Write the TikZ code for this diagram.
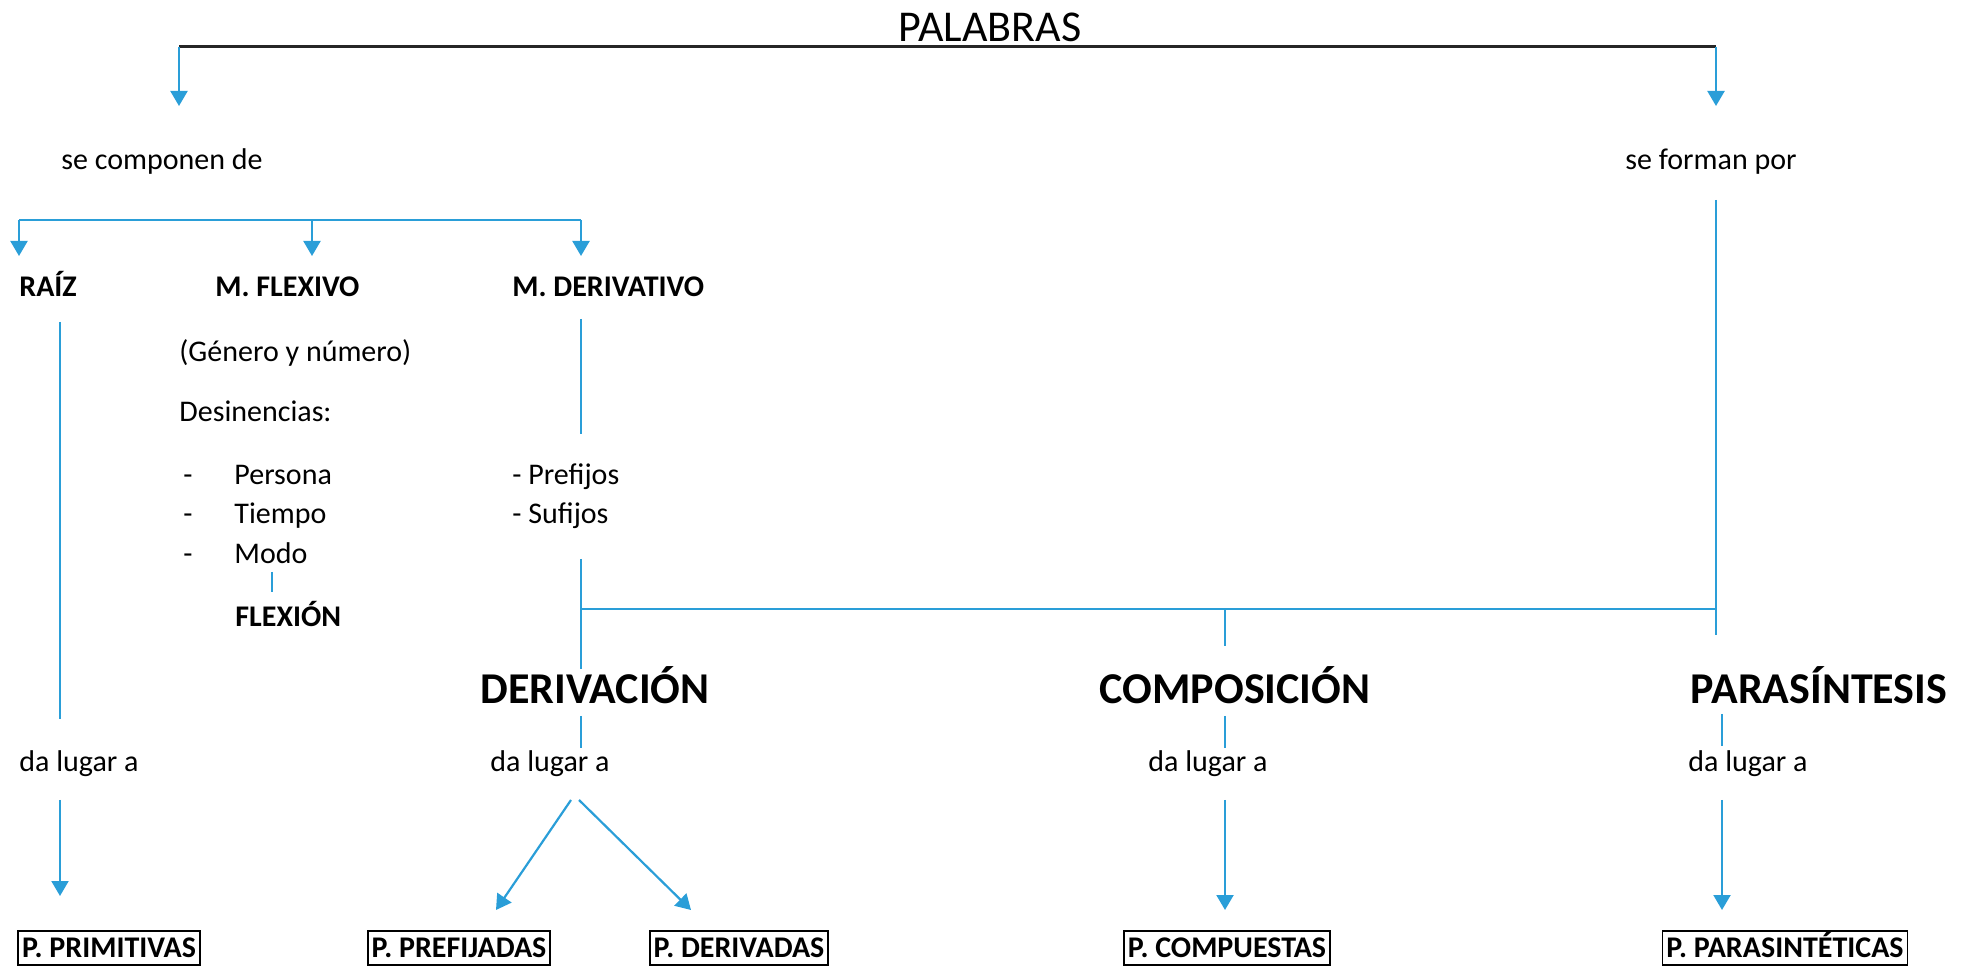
\documentclass[tikz,border=0pt]{standalone}
\usepackage{fontspec}
\setmainfont{Carlito}
\usetikzlibrary{arrows.meta, positioning}
\definecolor{mapblue}{RGB}{42,158,216}

\tikzset{
  txt/.style={inner sep=0pt, font=\fontsize{15}{18}\selectfont},
  lbl/.style={inner sep=0pt, font=\fontsize{15}{18}\selectfont\bfseries},
  big/.style={inner sep=0pt, font=\fontsize{22}{26}\selectfont\bfseries},
  result/.style={draw=black, line width=0.9pt, inner xsep=2pt, inner ysep=3.5pt,
    text height=9.7pt, text depth=0pt, font=\fontsize{15}{18}\selectfont\bfseries},
  link/.style={draw=mapblue, line width=1.1pt},
  arr/.style={link, -{Triangle[width=8.5pt,length=7.5pt]}},
}

\begin{document}
\begin{tikzpicture}[x=0.5pt,y=-0.5pt]
    \useasboundingbox (0,0) rectangle (1961,967);
    % top level
    \node[inner sep=0pt, font=\fontsize{22}{26}\selectfont] (palabras) at (990,27) {PALABRAS};
    \node[txt] (compon) at (162,162) {se componen de};
    \node[txt] (forman) at (1711,162) {se forman por};
    \coordinate (tl) at (179,47);
    \coordinate (tr) at (1716,47);
    \coordinate (tlend) at (179,106);
    \coordinate (trend) at (1716,106);
    \draw[line width=1.5pt, black!85] (tl) -- (tr);
    \draw[arr] (tl) -- (tlend);
    \draw[arr] (tr) -- (trend);

    % se componen de
    \node[lbl, anchor=base west] (raiz) at (19,297) {RAÍZ};
    \node[lbl, anchor=base west] (flex) at (215,297) {M. FLEXIVO};
    \node[lbl, anchor=base west] (mder) at (512,297) {M. DERIVATIVO};
    \coordinate (ca) at (19,220);
    \coordinate (cb) at (312,220);
    \coordinate (cc) at (581,220);
    \draw[link] (ca) -- (cc);
    \foreach \c in {ca,cb,cc}
        \draw[arr] (\c) -- ++(0,36);

    % morfema flexivo
    \node[txt, anchor=base west] (genero) at (179,362) {(Género y número)};
    \node[txt, anchor=base west] (desin) at (179,422) {Desinencias:};
    \coordinate (dashx) at (188,0);
    \foreach \w/\y in {Persona/485, Tiempo/524, Modo/564} {
        \node[txt, anchor=base west] (\w) at (234,\y) {\w};
        \node[txt, anchor=base] (d\w) at (\w.base -| dashx) {-};
    }
    \node[lbl, anchor=base west] (flexion) at (235,627) {FLEXIÓN};
    \coordinate (m1) at (272,572);
    \coordinate (m2) at (272,592);
    \draw[link, line width=0.9pt] (m1) -- (m2);

    % morfema derivativo
    \node[txt, anchor=base west] (pref) at (512,485) {- Prefijos};
    \node[txt, anchor=base west] (suf) at (512,524) {- Sufijos};
    \coordinate (md1) at (581,319);
    \coordinate (md2) at (581,434);
    \draw[link] (md1) -- (md2);

    % procesos
    \node[big, anchor=base] (derivacion) at (595,704) {DERIVACIÓN};
    \node[big, anchor=base] (composicion) at (1235,704) {COMPOSICIÓN};
    \node[big, anchor=base] (parasintesis) at (1819,704) {PARASÍNTESIS};
    \coordinate (hl) at (581,609);
    \coordinate (hm) at (1225,609);
    \coordinate (hr) at (1716,609);
    \coordinate (dtop) at (581,559);
    \coordinate (dbot) at (581,669);
    \coordinate (cbot) at (1225,646);
    \coordinate (ptop) at (1716,200);
    \coordinate (pbot) at (1716,635);
    \draw[link] (dtop) -- (dbot);
    \draw[link] (hl) -- (hr);
    \draw[link] (hm) -- (cbot);
    \draw[link] (ptop) -- (pbot);

    % da lugar a
    \node[txt, anchor=base west] (lugar1) at (19,772) {da lugar a};
    \node[txt, anchor=base west] (lugar2) at (490,772) {da lugar a};
    \node[txt, anchor=base west] (lugar3) at (1148,772) {da lugar a};
    \node[txt, anchor=base west] (lugar4) at (1688,772) {da lugar a};
    \coordinate (r1) at (60,322);
    \coordinate (r2) at (60,719);
    \draw[link] (r1) -- (r2);
    \foreach \x/\a/\b in {581/716/748, 1225/716/748, 1722/714/746}
        \draw[link] (\x,\a) coordinate (s\x) -- (\x,\b) coordinate (e\x);

    % resultados
    \node[result] (prim) at (109,948) {P. PRIMITIVAS};
    \node[result] (prefij) at (459,948) {P. PREFIJADAS};
    \node[result] (deriv) at (739,948) {P. DERIVADAS};
    \node[result] (compu) at (1227,948) {P. COMPUESTAS};
    \node[result] (paras) at (1785,948) {P. PARASINTÉTICAS};
    \coordinate (a1) at (60,800);
    \coordinate (a2) at (571,800);
    \coordinate (a3) at (579,800);
    \coordinate (a4) at (1225,800);
    \coordinate (a5) at (1722,800);
    \draw[arr] (a1) -- (60,896);
    \draw[arr] (a2) -- (496,910);
    \draw[arr] (a3) -- (691,910);
    \draw[arr] (a4) -- (1225,910);
    \draw[arr] (a5) -- (1722,910);
\end{tikzpicture}
\end{document}
